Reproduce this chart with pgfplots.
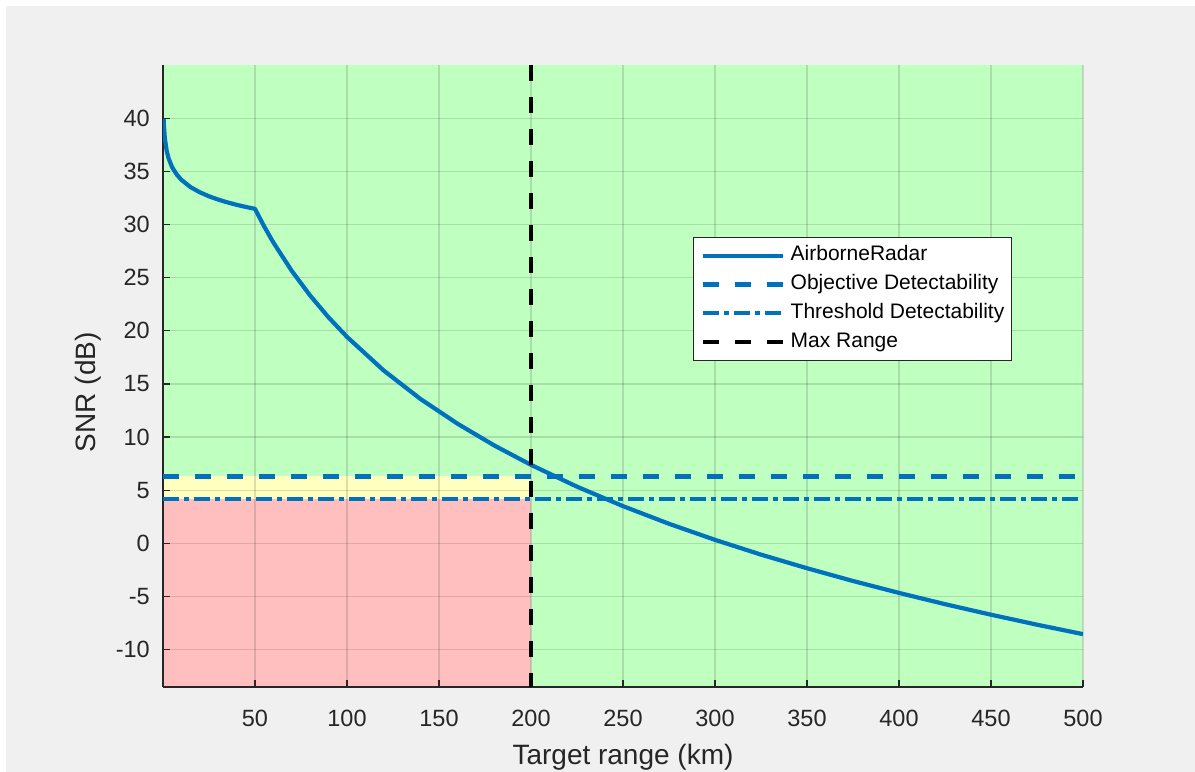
\documentclass[border=0pt]{standalone}
\usepackage{pgfplots}
\pgfplotsset{compat=1.18}
\usepackage{fontspec}
\setmainfont{Liberation Sans}
\definecolor{figbg}{RGB}{240,240,240}
\definecolor{zgreen}{RGB}{191,255,191}
\definecolor{zyellow}{RGB}{255,255,191}
\definecolor{zred}{RGB}{255,191,191}
\definecolor{mblue}{RGB}{0,114,189}
\definecolor{axgray}{RGB}{38,38,38}
\pgfplotstableread{
x y
0.35 39.9
0.5 39.27
1 38.1
2 36.93
3 36.24
5 35.37
7.5 34.69
10 34.2
15 33.51
20 33.03
25 32.65
30 32.34
35 32.08
40 31.85
45 31.65
50 31.47
55 29.81
60 28.30
70 25.63
80 23.31
90 21.26
100 19.43
120 16.26
140 13.58
160 11.27
180 9.22
200 7.39
225 5.34
250 3.51
275 1.85
300 0.34
325 -1.05
350 -2.33
375 -3.53
400 -4.65
425 -5.71
450 -6.70
475 -7.64
500 -8.53
}\snrdata
\pagecolor{figbg}
\begin{document}
\begin{tikzpicture}
\fill[white] (0,766bp) rectangle (1195bp,772bp);
\fill[white] (0,0) rectangle (6bp,772bp);
\begin{axis}[
  at={(163bp,85bp)}, anchor=south west,
  scale only axis, width=920bp, height=622bp,
  xmin=0, xmax=500, ymin=-13.5, ymax=45,
  set layers,
  axis x line*=bottom, axis y line*=left,
  axis line style={axgray, line width=1.3bp, -},
  xtick={50,100,...,500}, ytick={-10,-5,...,40},
  tick align=inside, major tick length=7bp,
  tick style={axgray, line width=1.3bp},
  grid=major,
  major grid style={draw=axgray, draw opacity=0.15, line width=1.3bp},
  /pgf/number format/assume math mode=true,
  tick label style={font=\fontsize{23.5bp}{26bp}\selectfont, text=axgray},
  xticklabel style={anchor=north, inner sep=0pt, yshift=-23bp},
  yticklabel style={anchor=east, inner sep=0pt, xshift=-13bp},
  xlabel={Target range (km)},
  ylabel={SNR (dB)},
  label style={font=\fontsize{28bp}{32bp}\selectfont, text=axgray},
  xlabel style={at={(axis description cs:0.5,-0.1238)}, anchor=base},
  ylabel style={at={(axis description cs:-0.0815,0.474)}, anchor=center},
  legend style={
    at={(0.5761,0.7235)}, anchor=north west,
    draw=axgray, line width=1bp, fill=white,
    font=\fontsize{21bp}{24bp}\selectfont,
    inner xsep=7bp, inner ysep=9bp,
    row sep=10bp, column sep=6bp,
    nodes={inner sep=0pt, text height=14.5bp, text depth=4.2bp},
  },
  legend cell align=left,
  legend image code/.code={\draw[#1] (0bp,0bp) -- (80bp,0bp);},
]
\addplot[on layer=axis background, fill=zgreen, draw=none, forget plot] coordinates {(0,-13.5) (500,-13.5) (500,45) (0,45)} -- cycle;
\addplot[on layer=axis background, fill=zyellow, draw=none, forget plot] coordinates {(0,4.2) (200,4.2) (200,6.3) (0,6.3)} -- cycle;
\addplot[on layer=axis background, fill=zred, draw=none, forget plot] coordinates {(0,-13.5) (200,-13.5) (200,4.2) (0,4.2)} -- cycle;
\addplot[mblue, line width=4.2bp, line join=round] table {\snrdata};
\addlegendentry{AirborneRadar}
\addplot[mblue, line width=4.2bp, dash pattern=on 16bp off 16bp] coordinates {(0,6.3) (500,6.3)};
\addlegendentry{Objective Detectability}
\addplot[mblue, line width=4.2bp, dash pattern=on 16bp off 5bp on 5bp off 5bp] coordinates {(0,4.2) (500,4.2)};
\addlegendentry{Threshold Detectability}
\addplot[black, line width=4.2bp, dash pattern=on 16bp off 16bp] coordinates {(200,45) (200,-13.5)};
\addlegendentry{Max Range}
\end{axis}
\pgfresetboundingbox
\path (0,0) rectangle (1195bp,772bp);
\end{tikzpicture}
\end{document}
